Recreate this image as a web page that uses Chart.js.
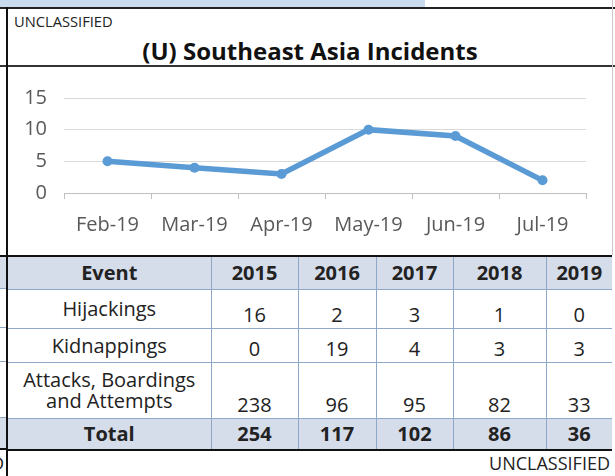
<!DOCTYPE html>
<html>
<head>
<meta charset="utf-8">
<script src="https://cdn.jsdelivr.net/npm/chart.js@4"></script>
<style>
  html, body { margin: 0; padding: 0; background: #fff; }
  body { width: 615px; height: 476px; position: relative; overflow: hidden; font-family: "Open Sans", sans-serif; }
  .abs { position: absolute; }
  #topband { left: 0; top: 0; width: 425px; height: 7px; background: #c9dbec; }
  #topline { left: 0; top: 7px; width: 615px; height: 2px; background: #222; }
  #leftline { left: 6px; top: 7px; width: 2px; height: 469px; background: #111; }
  #rightline { left: 612px; top: 0; width: 1px; height: 255px; background: #c8c8c8; }
  #titleline { left: 0; top: 65px; width: 615px; height: 2px; background: #333; }
  #unclassTop { left: 14px; top: 11px; font-size: 14.7px; color: #222; }
  #title { left: 8px; top: 35px; width: 604px; text-align: center; font-size: 24px; line-height: 32px; font-weight: 700; color: #111; }
  #chartWrap { left: 8px; top: 67px; width: 604px; height: 187px; }
  #tbl { left: 8px; top: 255px; width: 604px; border-collapse: collapse; font-size: 20px; color: #222; }
  #tbl td, #tbl th { border: 1px solid #8fa8c8; padding: 0 2px; text-align: center; }
  #tbl tr.hdr th, #tbl tr.tot td { background: #d5dcea; font-weight: 700; }
  #tbl tr.hdr th { border-top: 2px solid #111; }
  #tbl tr.tot td { border-bottom: 2px solid #111; }
  #tbl td.num { vertical-align: bottom; padding-bottom: 1px; line-height: 24px; }
  #tbl td.lbl { vertical-align: middle; line-height: 21px; }
  #tbl tr td:last-child, #tbl tr th:last-child { border-right: none; }
  #tbl tr td:first-child, #tbl tr th:first-child { border-left: none; }
  #unclassBot { left: 380px; top: 451px; width: 230px; text-align: right; font-size: 18px; color: #222; }
  #stubD { left: -9px; top: 451px; font-size: 18px; color: #222; }
  .stub { left: 0; width: 6px; }
</style>
</head>
<body>
<div id="topband" class="abs"></div>
<div id="unclassTop" class="abs">UNCLASSIFIED</div>
<div id="title" class="abs">(U) Southeast Asia Incidents</div>
<div id="chartWrap" class="abs"><canvas id="c" width="604" height="187"></canvas></div>
<table id="tbl" class="abs"></table>
<div id="unclassBot" class="abs">UNCLASSIFIED</div>
<div id="stubD" class="abs">D</div>
<div id="stubs"></div>
<div id="topline" class="abs"></div>
<div id="titleline" class="abs"></div>
<div id="rightline" class="abs"></div>
<div id="leftline" class="abs"></div>
<script>
// monthly incidents (line chart)
const months = ['Feb-19', 'Mar-19', 'Apr-19', 'May-19', 'Jun-19', 'Jul-19'];
const incidents = [5, 4, 3, 10, 9, 2];

// yearly table
const years = ['2015', '2016', '2017', '2018', '2019'];
const events = ['Hijackings', 'Kidnappings', 'Attacks, Boardings<br>and Attempts'];
const hijackings = [16, 2, 3, 1, 0];
const kidnappings = [0, 19, 4, 3, 3];
const attacks = [238, 96, 95, 82, 33];
const totals = [254, 117, 102, 86, 36];

const colWidths = [203, 87, 78, 77, 93, 66];
const rowHeights = [33, 39, 34, 56, 32];

// build the table
const tbl = document.getElementById('tbl');
let html = '<colgroup>' + colWidths.map(w => `<col style="width:${w}px">`).join('') + '</colgroup>';
html += `<tr class="hdr" style="height:${rowHeights[0]}px"><th>Event</th>` + years.map(y => `<th>${y}</th>`).join('') + '</tr>';
[hijackings, kidnappings, attacks].forEach((vals, i) => {
  html += `<tr style="height:${rowHeights[i + 1]}px"><td class="lbl">${events[i]}</td>` +
    vals.map(v => `<td class="num">${v}</td>`).join('') + '</tr>';
});
html += `<tr class="tot" style="height:${rowHeights[4]}px"><td>Total</td>` + totals.map(v => `<td>${v}</td>`).join('') + '</tr>';
tbl.innerHTML = html;

// little bits of the neighbouring table left of the frame
const stubs = document.getElementById('stubs');
const stubRows = [[255, 33, '#d5dcea'], [288, 39, '#fff'], [327, 34, '#fff'], [361, 56, '#fff'], [417, 32, '#d5dcea']];
stubRows.forEach(([top, h, bg], i) => {
  const d = document.createElement('div');
  d.className = 'abs stub';
  d.style.cssText = `top:${top}px;height:${h}px;background:${bg};border-top:${i === 0 ? '2px solid #111' : '1px solid #8fa8c8'};box-sizing:border-box;`;
  stubs.appendChild(d);
});
const sb = document.createElement('div');
sb.className = 'abs stub';
sb.style.cssText = 'top:448px;height:2px;background:#111;';
stubs.appendChild(sb);

new Chart(document.getElementById('c'), {
  type: 'line',
  data: {
    labels: months,
    datasets: [{
      data: incidents,
      borderColor: '#5b9bd5',
      backgroundColor: '#5b9bd5',
      borderWidth: 5.5,
      pointRadius: 5,
      pointBorderWidth: 0,
      tension: 0
    }]
  },
  options: {
    responsive: false,
    animation: false,
    layout: { padding: { top: 31, right: 26, left: 0, bottom: 0 } },
    plugins: { legend: { display: false }, tooltip: { enabled: false } },
    scales: {
      x: {
        offset: true,
        afterFit: s => { s.height = 61; },
        grid: { offset: true, drawOnChartArea: false, color: '#bfbfbf', tickLength: 6 },
        border: { color: '#bfbfbf', width: 1 },
        ticks: { color: '#595959', font: { family: 'Open Sans', size: 20 }, padding: 14, maxRotation: 0 }
      },
      y: {
        min: 0,
        max: 15,
        afterFit: s => { s.width = 56; },
        grid: { color: '#d9d9d9', drawTicks: false },
        border: { display: false },
        ticks: { stepSize: 5, color: '#595959', font: { family: 'Open Sans', size: 20 }, padding: 17 }
      }
    }
  }
});
</script>
</body>
</html>
